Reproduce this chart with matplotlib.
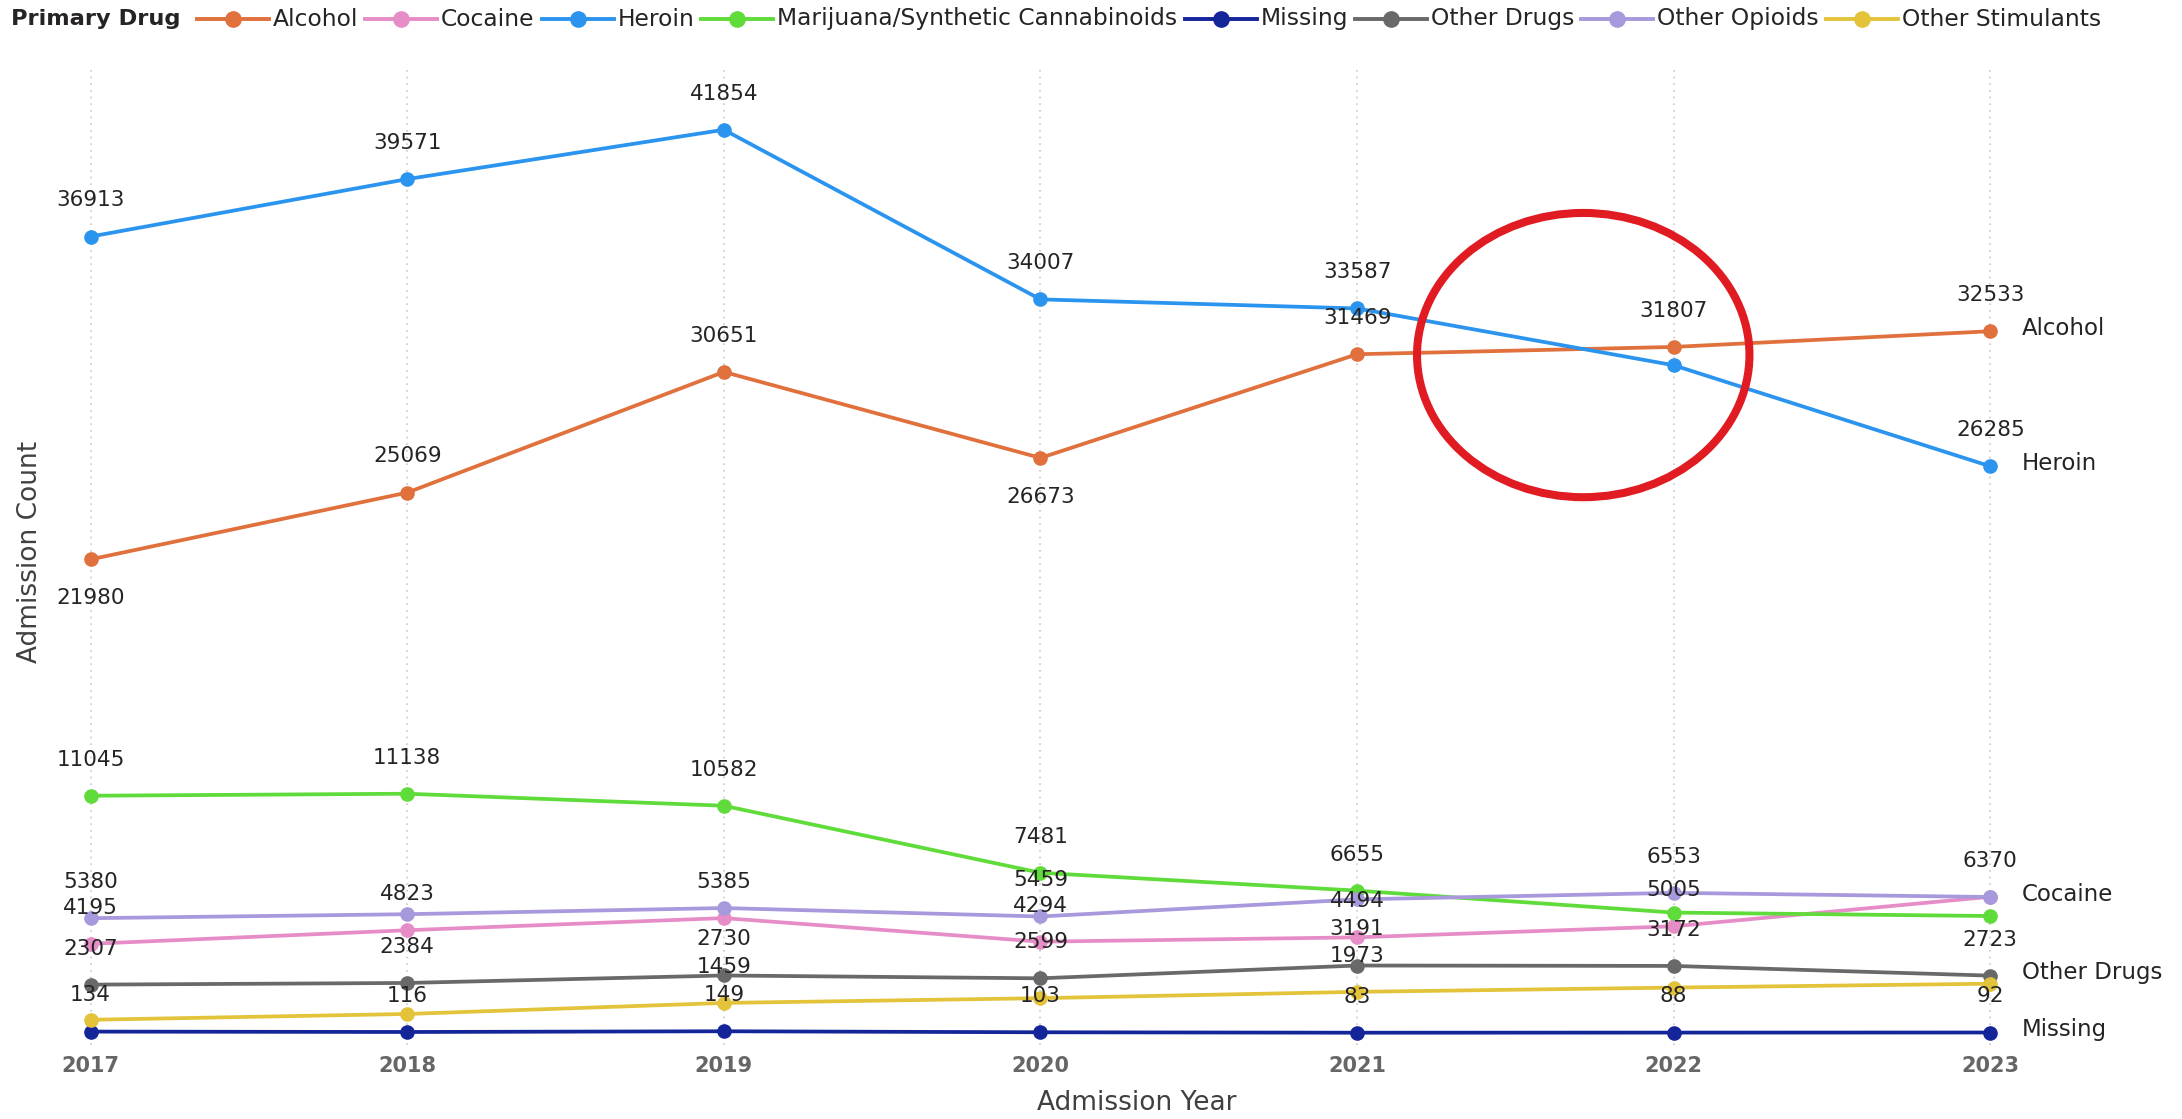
import matplotlib
matplotlib.use("Agg")
import matplotlib.pyplot as plt
from matplotlib.patches import Ellipse
from matplotlib.lines import Line2D

# ---- data -------------------------------------------------------------
years = [2017, 2018, 2019, 2020, 2021, 2022, 2023]

drug_names = ["Alcohol", "Cocaine", "Heroin", "Marijuana/Synthetic Cannabinoids",
              "Missing", "Other Drugs", "Other Opioids", "Other Stimulants"]

alcohol = [21980, 25069, 30651, 26673, 31469, 31807, 32533]
cocaine = [4195, 4823, 5385, 4294, 4494, 5005, 6370]
heroin = [36913, 39571, 41854, 34007, 33587, 30960, 26285]
marijuana = [11045, 11138, 10582, 7481, 6655, 5640, 5480]
missing = [134, 116, 149, 103, 83, 88, 92]
other_drugs = [2307, 2384, 2730, 2599, 3191, 3172, 2723]
other_opioids = [5380, 5565, 5850, 5459, 6250, 6553, 6360]
other_stimulants = [680, 950, 1459, 1680, 1973, 2170, 2350]

values = [alcohol, cocaine, heroin, marijuana, missing,
          other_drugs, other_opioids, other_stimulants]

colors = ["#E0703C", "#E68DC8", "#2A94EE", "#5FDB3A",
          "#14259A", "#696969", "#A898DC", "#E3C33A"]

# which points carry a value label (overlapping ones are suppressed)
show_label = [
    [1, 1, 1, 1, 1, 1, 1],
    [1, 1, 1, 1, 1, 1, 1],
    [1, 1, 1, 1, 1, 0, 1],
    [1, 1, 1, 1, 1, 0, 0],
    [1, 1, 1, 1, 1, 1, 1],
    [1, 1, 1, 1, 1, 1, 1],
    [1, 0, 0, 1, 0, 1, 0],
    [0, 0, 1, 0, 1, 0, 0],
]
# +1 label above the point, -1 below
label_side = [
    [-1, 1, 1, -1, 1, 1, 1],
] + [[1] * 7 for _ in range(7)]

end_labels = ["Alcohol", "Cocaine", "Heroin", "Missing", "Other Drugs"]

# ---- figure -----------------------------------------------------------
W, H = 2182, 1119
DPI = 100
plt.rcParams["font.family"] = ["DejaVu Sans"]
fig = plt.figure(figsize=(W / DPI, H / DPI), dpi=DPI)
fig.patch.set_facecolor("white")

ax_left, ax_right, ax_top, ax_bottom = 40, 2040, 70, 1045
ax = fig.add_axes([ax_left / W, (H - ax_bottom) / H,
                   (ax_right - ax_left) / W, (ax_bottom - ax_top) / H])
ax.set_xlim(2016.840, 2023.157)
ax.set_ylim(-486, 44618)

for spine in ax.spines.values():
    spine.set_visible(False)
ax.set_yticks([])
ax.set_xticks(years)
ax.set_xticklabels([str(y) for y in years], fontsize=15, fontweight="bold",
                   color="#666666")
ax.tick_params(axis="x", length=0, pad=8)
ax.grid(axis="x", linestyle=(0, (1, 3)), color="#C9C9C9", linewidth=1.2)
ax.set_axisbelow(True)

for i, (name, vals, col) in enumerate(zip(drug_names, values, colors)):
    ax.plot(years, vals, color=col, linewidth=2.7, marker="o", markersize=9.5,
            zorder=3 + i, solid_capstyle="round")
    for j, (x, v) in enumerate(zip(years, vals)):
        if show_label[i][j]:
            side = label_side[i][j]
            ax.annotate(str(v), (x, v), xytext=(0, 26 if side > 0 else -28),
                        textcoords="offset points", ha="center", va="center",
                        fontsize=15.5, color="#252423", zorder=20)
    if name in end_labels:
        ax.annotate(name, (years[-1], vals[-1]), xytext=(23, 2),
                    textcoords="offset points", ha="left", va="center",
                    fontsize=16.5, color="#252423", zorder=20)

# red ring around the point where heroin drops below alcohol
k = 4
d0 = heroin[k] - alcohol[k]
d1 = heroin[k + 1] - alcohol[k + 1]
t = d0 / (d0 - d1)
cross_x = years[k] + t
cross_y = alcohol[k] + t * (alcohol[k + 1] - alcohol[k])
ax.add_patch(Ellipse((cross_x, cross_y - 280), width=1.05, height=13150,
                     fill=False, edgecolor="#E11B22", linewidth=5.8,
                     zorder=30))

# axis titles
fig.text(1137 / W, 1 - 1103 / H, "Admission Year", ha="center", va="center",
         fontsize=19, color="#404040")
fig.text(30 / W, 1 - 552 / H, "Admission Count", ha="center", va="center",
         rotation=90, fontsize=19, color="#404040")

# legend row along the top
renderer = fig.canvas.get_renderer()
leg_y = 1 - 19 / H
x = 11
title = fig.text(x / W, leg_y, "Primary Drug", ha="left", va="center",
                 fontsize=16.2, fontweight="bold", color="#252423")
x += title.get_window_extent(renderer).width + 16
for name, col in zip(drug_names, colors):
    seg = 72
    fig.add_artist(Line2D([x / W, (x + seg) / W], [leg_y, leg_y], color=col,
                          linewidth=2.8, transform=fig.transFigure))
    fig.add_artist(Line2D([(x + seg / 2) / W], [leg_y], color=col, marker="o",
                          markersize=11, linestyle="none",
                          transform=fig.transFigure))
    x += seg + 4
    txt = fig.text(x / W, leg_y, name, ha="left", va="center", fontsize=16.8,
                   color="#252423")
    x += txt.get_window_extent(renderer).width + 7

fig.savefig("out.png", dpi=DPI, facecolor="white")
